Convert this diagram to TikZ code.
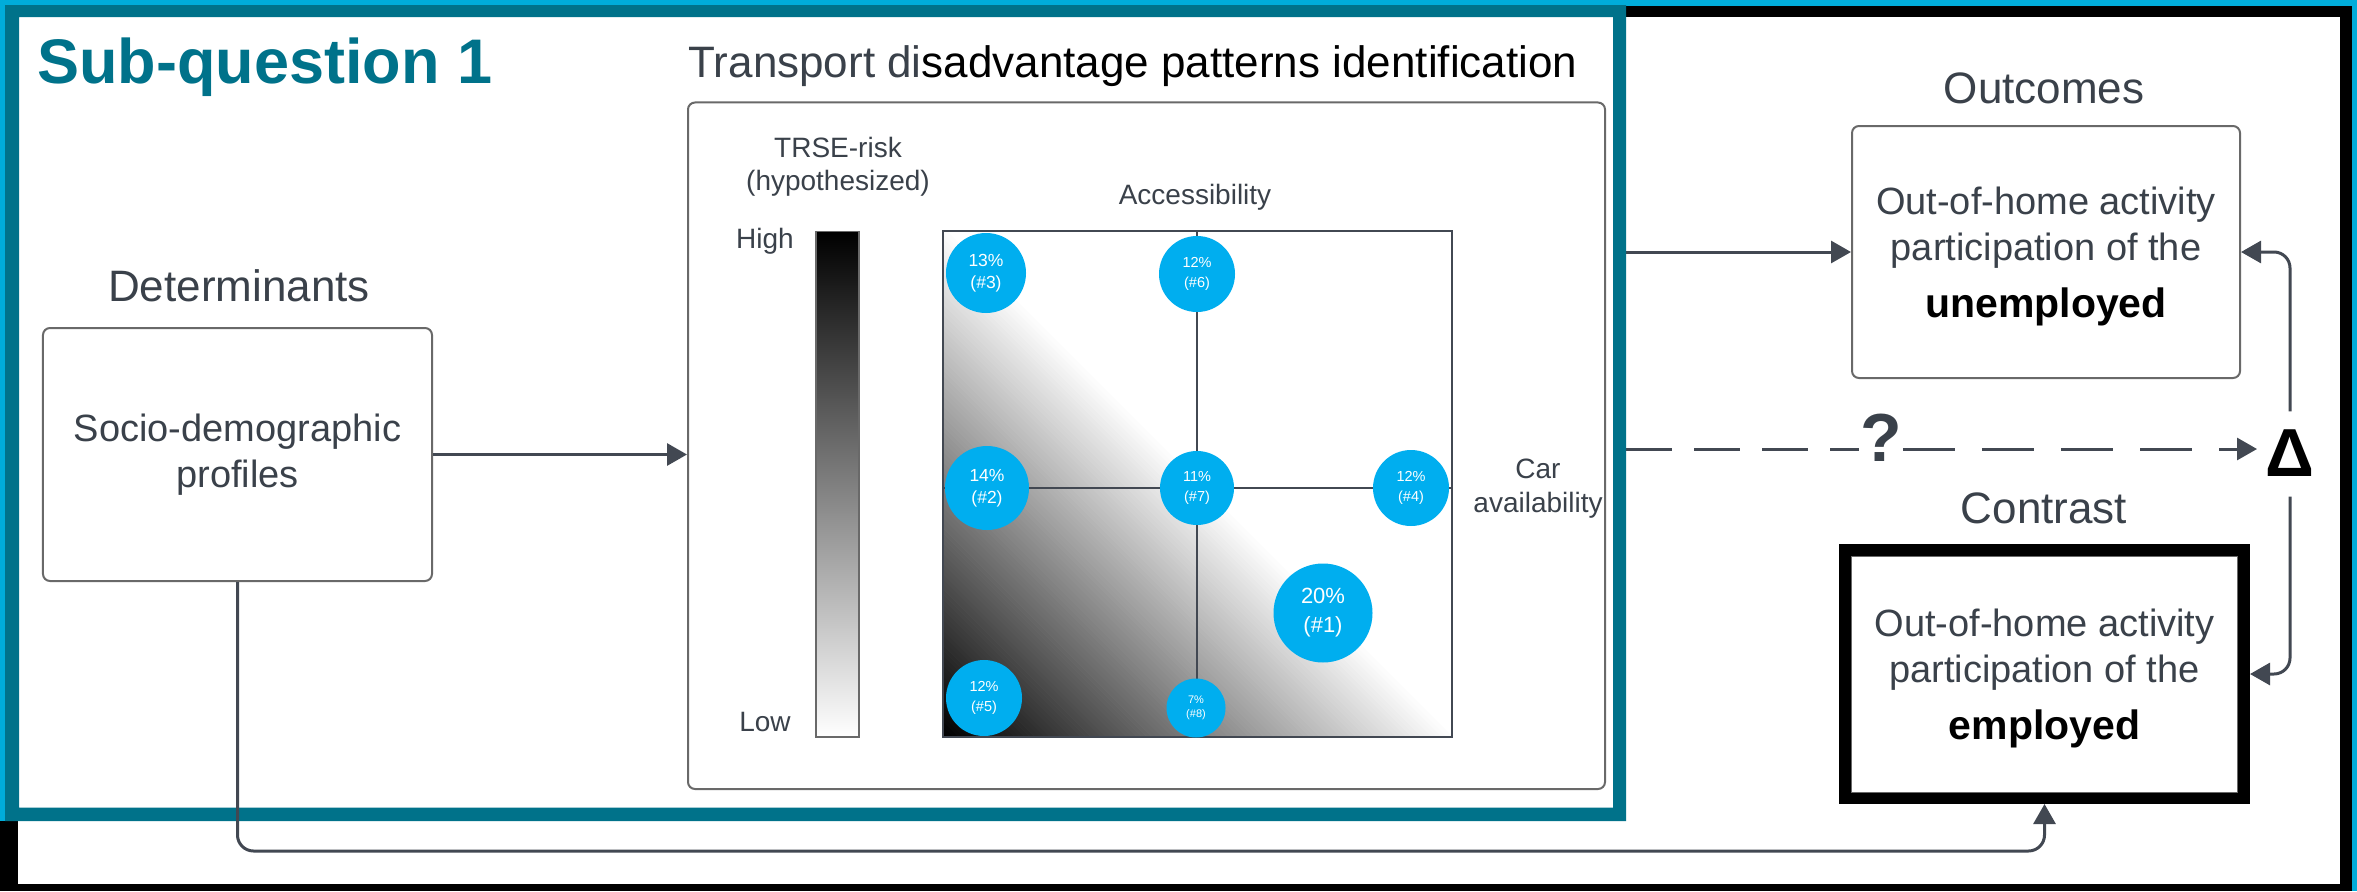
\documentclass[tikz,border=0pt]{standalone}
\usepackage{fontspec}
\setmainfont{Liberation Sans}
\usetikzlibrary{arrows.meta}
\definecolor{teal1}{RGB}{0,114,138}
\definecolor{cyan1}{RGB}{0,172,218}
\definecolor{cblue}{RGB}{0,174,239}
\definecolor{txtg}{RGB}{58,65,74}
\definecolor{lineg}{RGB}{66,72,82}
\definecolor{boxg}{RGB}{105,105,105}
\tikzset{
  box/.style={draw=boxg, line width=2bp, rounded corners=7bp, fill=white, text=txtg, align=center, inner sep=0pt},
  arr/.style={draw=lineg, line width=3bp, -{Triangle[length=20bp,width=22bp]}},
  lbl/.style={text=txtg, inner sep=0pt},
  circ/.style={circle, fill=cblue, inner sep=0pt, text=white, align=center},
  cbig/.style={circ, font=\fontsize{22bp}{29bp}\selectfont},
  cmid/.style={circ, font=\fontsize{17.5bp}{22bp}\selectfont},
  csml/.style={circ, font=\fontsize{14.5bp}{19.5bp}\selectfont},
  ctiny/.style={circ, font=\fontsize{11bp}{14bp}\selectfont},
}
\begin{document}
\begin{tikzpicture}[x=1bp, y=-1bp]
\useasboundingbox (0,0) rectangle (2357,891);
% background and outer frame
\fill[cyan1] (0,0) rectangle (2357,891);
\fill[black] (0,6) rectangle (2352,891);
\fill[white] (18,17) rectangle (2340,884);
\fill[cyan1] (0,0) rectangle (5.5,821);

% left: determinants
\node[lbl, anchor=base, font=\fontsize{44bp}{50bp}\selectfont] (det) at (239,301) {Determinants};
\node[box, minimum width=389bp, minimum height=253bp, font=\fontsize{38bp}{45.5bp}\selectfont] (socio) at (237.5,454.5) {Socio-demographic\\profiles};

% pattern box
\node[anchor=base, inner sep=0pt, font=\fontsize{44bp}{50bp}\selectfont] (ttl) at (1133,77) {\textcolor{txtg}{Transport di}sadvantage patterns identification};
\node[box, minimum width=917bp, minimum height=686.5bp] (pat) at (1146.5,445.75) {};

\node[lbl, align=center, font=\fontsize{28bp}{33bp}\selectfont] (trse) at (838,166.7) {TRSE-risk\\(hypothesized)};
\node[lbl, anchor=base, font=\fontsize{28bp}{33bp}\selectfont] (high) at (765,248.5) {High};
\node[lbl, anchor=base, font=\fontsize{28bp}{33bp}\selectfont] (low) at (765,731.5) {Low};
\shade[top color=black, bottom color=white] (816,231.5) rectangle (859,737);
\draw[boxg, line width=1.2bp] (816,231.5) rectangle (859,737);

\node[lbl, anchor=base, font=\fontsize{28bp}{33bp}\selectfont] (acc) at (1195,204) {Accessibility};
\node[lbl, align=center, font=\fontsize{28bp}{34bp}\selectfont] (car) at (1538,488.6) {Car\\availability};

% gradient in plot
\begin{scope}
\clip (943,231) rectangle (1452,737);
\foreach \i in {0,...,99}{
  \pgfmathsetmacro\sa{\i*5.09}
  \pgfmathsetmacro\sb{(\i+1)*5.09+0.8}
  \pgfmathsetmacro\g{100-\i}
  \fill[black!\g!white] (943,737-\sa) -- (943+\sa,737) -- (943+\sb,737) -- (943,737-\sb) -- cycle;
}
\end{scope}
\draw[lineg, line width=1.5bp] (943,231) rectangle (1452,737);
\draw[lineg, line width=1.5bp] (1197,231) -- (1197,737);
\draw[lineg, line width=1.5bp] (943,488) -- (1452,488);

\node[cmid, minimum size=80bp] (c3) at (986,273) {13\%\\(\#3)};
\node[csml, minimum size=76bp] (c6) at (1197,274) {12\%\\(\#6)};
\node[cmid, minimum size=84bp] (c2) at (987,488) {14\%\\(\#2)};
\node[csml, minimum size=74bp] (c7) at (1197,488) {11\%\\(\#7)};
\node[csml, minimum size=76bp] (c4) at (1411,488) {12\%\\(\#4)};
\node[cbig, minimum size=99bp] (c1) at (1323,613) {20\%\\(\#1)};
\node[csml, minimum size=76bp] (c5) at (984,698) {12\%\\(\#5)};
\node[ctiny, minimum size=59bp] (c8) at (1196,708) {7\%\\(\#8)};

% right side
\node[lbl, anchor=base, font=\fontsize{44bp}{50bp}\selectfont] (outl) at (2044,103) {Outcomes};
\node[box, minimum width=388bp, minimum height=252bp, font=\fontsize{38bp}{46bp}\selectfont] (outc) at (2046,252)
  {\rule{0pt}{37bp}Out-of-home activity\\participation of the\\[11bp]{\color{black}\bfseries\fontsize{41bp}{46bp}\selectfont unemployed}};

\node[lbl, anchor=base, font=\fontsize{44bp}{50bp}\selectfont] (conl) at (2044,523) {Contrast};
\node[draw=black, line width=12bp, fill=white, minimum width=399bp, minimum height=248bp, inner sep=0pt, text=txtg, align=center, font=\fontsize{38bp}{46bp}\selectfont] (contr) at (2044.5,674)
  {\rule{0pt}{37bp}Out-of-home activity\\participation of the\\[11bp]{\color{black}\bfseries\fontsize{41bp}{46bp}\selectfont employed}};
\draw[boxg, line width=1.5bp] (1851.5,556.5) rectangle (2237.5,792.5);

\node[inner sep=0pt, font=\bfseries\fontsize{68bp}{70bp}\selectfont] (delta) at (2290,453) {Δ};

% connectors
\draw[arr] (socio.east) -- (socio.east -| pat.west);
\draw[arr] ([xshift=7bp]pat.east |- outc.west) -- (outc.west);
\coordinate (qe) at (2257,449);
\node[inner xsep=1bp, inner ysep=0pt, text=txtg, font=\bfseries\fontsize{68bp}{70bp}\selectfont] (q) at (1881,438) {?};
\draw[draw=lineg, line width=3bp, dash pattern=on 46bp off 22bp] ([xshift=20bp]pat.east |- qe) -- (q.west |- qe);
\draw[arr, dash pattern=on 52bp off 27bp] (q.east |- qe) -- (qe);
\draw[arr, rounded corners=16bp] ([yshift=18bp]delta.north) -- (delta.north |- outc.east) -- (outc.east);
\draw[arr, rounded corners=16bp] ([yshift=-20bp]delta.south) -- (delta.south |- contr.east) -- (contr.east);

% sub-question container
\fill[teal1, even odd rule] (5,5) rectangle (1626,821) (19,17) rectangle (1613,807.5);
\node[anchor=base west, inner sep=0pt, text=teal1, font=\bfseries\fontsize{63bp}{66bp}\selectfont] (sq) at (37,83) {Sub-question 1};

\coordinate (bot) at (0,851);
\draw[arr, rounded corners=16bp] (socio.south) -- (socio.south |- bot) -- (contr.south |- bot) -- (contr.south);
\end{tikzpicture}
\end{document}
